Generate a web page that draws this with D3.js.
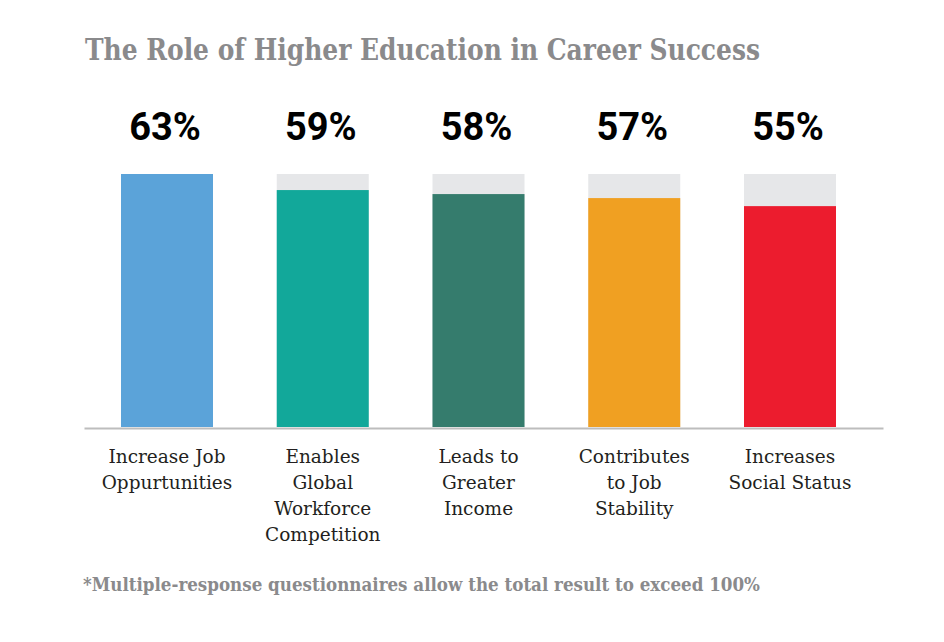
<!DOCTYPE html>
<html>
<head>
<meta charset="utf-8">
<script src="https://cdn.jsdelivr.net/npm/d3@7"></script>
<style>
  html, body { margin: 0; padding: 0; background: #fff; }
  svg { display: block; }
</style>
</head>
<body>
<svg id="chart" width="944" height="642"></svg>
<script>
const categories = [
  ["Increase Job", "Oppurtunities"],
  ["Enables", "Global", "Workforce", "Competition"],
  ["Leads to", "Greater", "Income"],
  ["Contributes", "to Job", "Stability"],
  ["Increases", "Social Status"]
];
const values = [63, 59, 58, 57, 55];
const colors = ["#5ba3d9", "#12a89a", "#357c6d", "#f0a022", "#ec1c2e"];
const maxValue = 63;
const titleText = "The Role of Higher Education in Career Success";
const noteText = "*Multiple-response questionnaires allow the total result to exceed 100%";

const svg = d3.select("#chart");
const serif = "'DejaVu Serif', serif";

const x = d3.scaleBand().domain(d3.range(values.length)).range([121, 836]).paddingInner(0.4093).paddingOuter(0);
const y = d3.scaleLinear().domain([0, maxValue]).range([427, 174]);

// title
svg.append("text").attr("x", 85).attr("y", 60)
  .attr("font-family", serif).attr("font-weight", "bold").attr("font-size", 30)
  .attr("fill", "#8a8a8c").attr("textLength", 675).attr("lengthAdjust", "spacingAndGlyphs")
  .text(titleText);

// background bars
svg.selectAll("rect.bg").data(values).enter().append("rect")
  .attr("class", "bg")
  .attr("x", (d, i) => x(i)).attr("width", x.bandwidth())
  .attr("y", y(maxValue)).attr("height", y(0) - y(maxValue))
  .attr("fill", "#e6e7e9");

// value bars
svg.selectAll("rect.bar").data(values).enter().append("rect")
  .attr("class", "bar")
  .attr("x", (d, i) => x(i)).attr("width", x.bandwidth())
  .attr("y", d => y(d)).attr("height", d => y(0) - y(d))
  .attr("fill", (d, i) => colors[i]);

// baseline axis
const axis = d3.axisBottom(d3.scaleLinear().domain([0, 1]).range([84, 883])).tickValues([]).tickSize(0);
const ag = svg.append("g").attr("transform", `translate(0,${y(0) + 1})`).call(axis);
ag.select(".domain").attr("stroke", "#bdbdbd").attr("stroke-width", 2);

// value labels
svg.selectAll("text.val").data(values).enter().append("text")
  .attr("class", "val")
  .attr("x", (d, i) => x(i) + x.bandwidth() / 2 - 2).attr("y", 140)
  .attr("text-anchor", "middle")
  .attr("font-family", "Roboto, 'Liberation Sans', Arial, sans-serif")
  .attr("font-weight", "bold").attr("font-size", 38).attr("fill", "#000")
  .text(d => d + "%");

// category labels
categories.forEach((lines, i) => {
  const cx = x(i) + x.bandwidth() / 2;
  const t = svg.append("text")
    .attr("x", cx).attr("y", 463)
    .attr("text-anchor", "middle")
    .attr("font-family", serif).attr("font-size", 18.5).attr("fill", "#231f20");
  lines.forEach((ln, j) => {
    t.append("tspan").attr("x", cx).attr("dy", j === 0 ? 0 : 26).text(ln);
  });
});

// footnote
svg.append("text").attr("x", 83).attr("y", 591)
  .attr("font-family", serif).attr("font-weight", "bold").attr("font-size", 18)
  .attr("fill", "#8a8a8c").attr("textLength", 677).attr("lengthAdjust", "spacingAndGlyphs")
  .text(noteText);
</script>
</body>
</html>
